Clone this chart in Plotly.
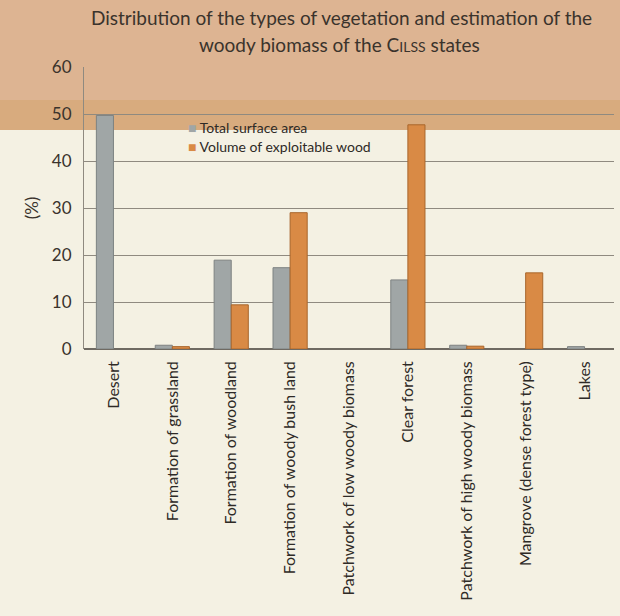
import plotly.graph_objects as go

categories = [
    "Desert",
    "Formation of grassland",
    "Formation of woodland",
    "Formation of woody bush land",
    "Patchwork of low woody biomass",
    "Clear forest",
    "Patchwork of high woody biomass",
    "Mangrove (dense forest type)",
    "Lakes",
]
total_surface = [49.7, 0.8, 18.9, 17.3, None, 14.7, 0.8, None, 0.5]
exploitable_wood = [None, 0.5, 9.4, 29.0, None, 47.7, 0.6, 16.2, None]
y_ticks = [0, 10, 20, 30, 40, 50, 60]

GREY = "#a0a6a6"
ORANGE = "#d98a45"

W, H = 620, 616
M_L, M_R, M_T, M_B = 84, 6, 67, 267
PH = H - M_T - M_B
PW = W - M_L - M_R


def py(px):
    """paper y coordinate from a pixel row measured from the top"""
    return (H - M_B - px) / PH


def px_x(px):
    return (px - M_L) / PW


fig = go.Figure()
fig.add_trace(go.Bar(
    x=categories, y=total_surface, name="Total surface area",
    marker=dict(color=GREY, line=dict(color="#7d8282", width=1)),
))
fig.add_trace(go.Bar(
    x=categories, y=exploitable_wood, name="Volume of exploitable wood",
    marker=dict(color=ORANGE, line=dict(color="#a8662c", width=1)),
))

# tan header band behind the title and upper plot area
fig.add_shape(type="rect", xref="paper", yref="paper",
              x0=px_x(0), x1=px_x(W), y0=py(130), y1=py(0),
              fillcolor="#ddb492", line_width=0, layer="below")
fig.add_shape(type="rect", xref="paper", yref="paper",
              x0=px_x(0), x1=px_x(W), y0=py(130), y1=py(100),
              fillcolor="#d8ab7e", line_width=0, layer="below")

# title, two centred lines
fig.add_annotation(
    xref="paper", yref="paper", x=px_x(341), y=py(17),
    xanchor="center", yanchor="middle", showarrow=False,
    text="Distribution of the types of vegetation and estimation of the",
    font=dict(size=19, color="#3a332c"),
)
fig.add_annotation(
    xref="paper", yref="paper", x=px_x(339), y=py(44),
    xanchor="center", yanchor="middle", showarrow=False,
    text="woody biomass of the C<span style='font-size:14px'>ILSS</span> states",
    font=dict(size=19, color="#3a332c"),
)

# legend entries
for label, color, row in [("Total surface area", GREY, 127),
                          ("Volume of exploitable wood", ORANGE, 146)]:
    fig.add_annotation(
        xref="paper", yref="paper", x=px_x(186), y=py(row),
        xanchor="left", yanchor="middle", showarrow=False,
        text=f"<span style='color:{color}'>■</span> {label}",
        font=dict(size=14, color="#2e2a26"),
    )

fig.update_layout(
    width=W, height=H,
    margin=dict(l=M_L, r=M_R, t=M_T, b=M_B),
    paper_bgcolor="#f4f1e3",
    plot_bgcolor="rgba(0,0,0,0)",
    barmode="group",
    bargap=0.42,
    bargroupgap=0,
    font=dict(family="Lato, 'Open Sans', sans-serif", color="#3a332c"),
    showlegend=False,
)
fig.update_yaxes(
    range=[0, 60], tickvals=y_ticks, showgrid=True,
    gridcolor="#8f8a80", gridwidth=1,
    showline=True, linecolor="#8f8a80", linewidth=1,
    zeroline=True, zerolinecolor="#6f6a62", zerolinewidth=1.5,
    tickfont=dict(size=17, color="#3a332c"), ticks="", ticklen=0,
    ticklabelstandoff=8,
    title=dict(text="(%)", font=dict(size=17), standoff=8),
)
fig.update_xaxes(
    tickangle=-90, tickfont=dict(size=16, color="#2e2a26"),
    showline=False, ticks="", ticklabelstandoff=8,
)

fig.write_html("out.html")
